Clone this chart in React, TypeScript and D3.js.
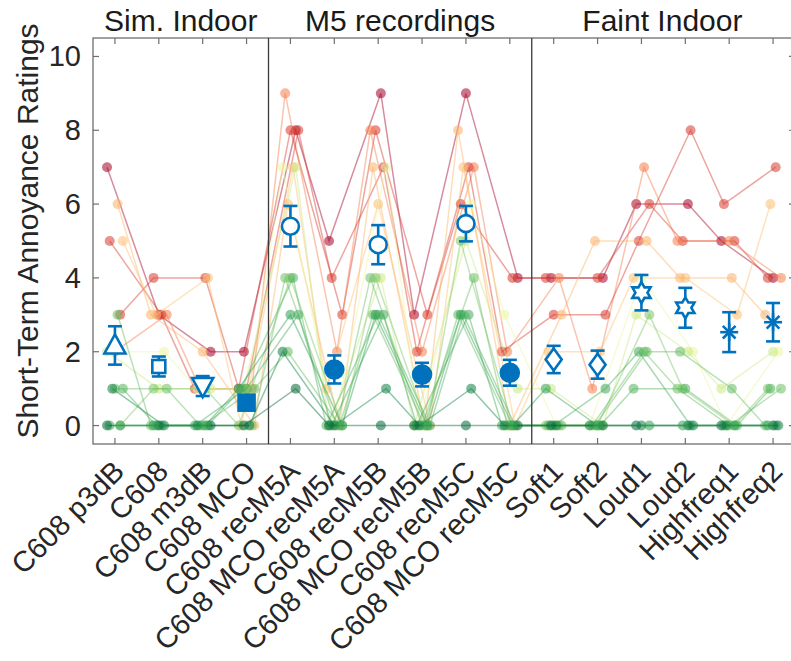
import React from "react";
import * as d3 from "d3";

// Stimulus conditions along the x axis
const categories = [
  "C608 p3dB", "C608", "C608 m3dB", "C608 MCO",
  "C608 recM5A", "C608 MCO recM5A", "C608 recM5B", "C608 MCO recM5B",
  "C608 recM5C", "C608 MCO recM5C",
  "Soft1", "Soft2", "Loud1", "Loud2", "Highfreq1", "Highfreq2",
];

// Group headings and the condition index range each one spans
const sectionTitles = ["Sim. Indoor", "M5 recordings", "Faint Indoor"];
const sectionStarts = [0, 4, 10];
const sectionEnds = [3, 9, 15];

// Mean rating and error per condition
const meanRatings = [2.17, 1.6, 1.07, 0.62, 5.4, 1.52, 4.9, 1.38, 5.47, 1.43, 1.79, 1.65, 3.6, 3.19, 2.53, 2.8];
const errRatings = [0.52, 0.27, 0.27, 0.12, 0.55, 0.38, 0.53, 0.32, 0.48, 0.35, 0.37, 0.38, 0.48, 0.54, 0.54, 0.52];
const meanMarkers = [
  "triangleUp", "square", "triangleDown", "squareFilled",
  "circle", "circleFilled", "circle", "circleFilled", "circle", "circleFilled",
  "diamond", "diamond", "hexagram", "hexagram", "asterisk", "asterisk",
];

// Individual listener ratings (one entry per condition)
const subj01 = [7, 3, 2, 2, 8, 5, 9, 3, 9, 4, 4, 4, 6, 6, 5, 4];
const subj02 = [3, 4, 4, 1, 8, 3, 8, 3, 6, 4, 4, 4, 6, 5, 5, 4];
const subj03 = [2, 3, 1, 1, 9, 2, 8, 2, 7, 2, 4, 1, 7, 5, 5, 4];
const subj04 = [5, 3, 1, 1, 8, 4, 7, 2, 7, 2, 3, 3, 5, 8, 6, 7];
const subj05 = [5, 3, 4, 0, 7, 1, 6, 0, 7, 0, 2, 2, 4, 4, 3, 6];
const subj06 = [6, 3, 2, 0, 6, 0, 7, 0, 8, 0, 3, 5, 5, 4, 4, 3];
const subj07 = [2, 2, 1, 1, 7, 0, 7, 0, 6, 3, 0, 0, 4, 2, 0, 2];
const subj08 = [2, 1, 1, 1, 7, 0, 4, 0, 5, 1, 1, 0, 3, 2, 1, 2];
const subj09 = [0, 1, 1, 0, 4, 0, 4, 0, 5, 0, 0, 0, 3, 1, 0, 1];
const subj10 = [1, 1, 0, 0, 4, 0, 4, 0, 4, 0, 0, 0, 2, 1, 0, 1];
const subj11 = [0, 0, 0, 1, 3, 0, 3, 0, 3, 0, 0, 1, 2, 0, 0, 0];
const subj12 = [1, 0, 0, 1, 4, 0, 3, 0, 3, 0, 0, 0, 1, 1, 0, 1];
const subj13 = [3, 0, 0, 1, 2, 0, 3, 0, 3, 0, 0, 0, 2, 2, 1, 0];
const subj14 = [1, 0, 0, 0, 2, 0, 1, 0, 1, 0, 0, 0, 0, 0, 0, 0];
const subj15 = [0, 0, 0, 0, 1, 0, 0, 0, 0, 0, 0, 0, 0, 0, 0, 0];
const subj16 = [0, 0, 0, 1, 3, 0, 3, 0, 3, 0, 1, 0, 0, 0, 0, 0];
const subjects = [subj01, subj02, subj03, subj04, subj05, subj06, subj07, subj08,
  subj09, subj10, subj11, subj12, subj13, subj14, subj15, subj16];

const yTicks = [0, 2, 4, 6, 8, 10];

const W = 791;
const H = 661;
const LEFT = 93;
const RIGHT = 795;
const TOP = 38;
const BOTTOM = 444;
const BLUE = "#0072BD";
const FONT = "'Liberation Sans', Arial, Helvetica, sans-serif";

const x = d3.scaleLinear().domain([-0.5, 15.5]).range([LEFT, RIGHT]);
const y = d3.scaleLinear().domain([-0.5, 10.5]).range([BOTTOM, TOP]);

const subjMeans = subjects.map((s) => d3.mean(s) as number);
const color = d3
  .scaleSequential(d3.interpolateRdYlGn)
  .domain([d3.max(subjMeans) as number, d3.min(subjMeans) as number]);

// small horizontal spread so overlapping ratings stay visible
const jitter = (s: number, c: number) => (((s * 5 + c * 3) % 7) - 3) * 0.06;

function hexagramPath(R: number) {
  const r = R / Math.sqrt(3);
  const pts: [number, number][] = [];
  for (let k = 0; k < 12; k++) {
    const a = -Math.PI / 2 + (k * Math.PI) / 6;
    const rad = k % 2 === 0 ? R : r;
    pts.push([rad * Math.cos(a), rad * Math.sin(a)]);
  }
  return "M" + pts.map((p) => p.join(",")).join("L") + "Z";
}

function MeanMarker({ kind, cx, cy }: { kind: string; cx: number; cy: number }) {
  const sw = 2.6;
  const common = { stroke: BLUE, strokeWidth: sw, strokeLinejoin: "miter" as const };
  switch (kind) {
    case "triangleUp":
      return <path d={`M${cx},${cy - 11}L${cx + 10.5},${cy + 8}L${cx - 10.5},${cy + 8}Z`} fill="white" {...common} />;
    case "triangleDown":
      return <path d={`M${cx},${cy + 11}L${cx + 10.5},${cy - 8}L${cx - 10.5},${cy - 8}Z`} fill="white" {...common} />;
    case "square":
      return <rect x={cx - 6.5} y={cy - 6.5} width={13} height={13} fill="white" {...common} />;
    case "squareFilled":
      return <rect x={cx - 8} y={cy - 8} width={16} height={16} fill={BLUE} {...common} />;
    case "circle":
      return <circle cx={cx} cy={cy} r={8.5} fill="white" {...common} />;
    case "circleFilled":
      return <circle cx={cx} cy={cy} r={9} fill={BLUE} {...common} />;
    case "diamond":
      return <path d={`M${cx},${cy - 11}L${cx + 8},${cy}L${cx},${cy + 11}L${cx - 8},${cy}Z`} fill="white" {...common} />;
    case "hexagram":
      return <path d={hexagramPath(10.5)} transform={`translate(${cx},${cy})`} fill="white" {...common} />;
    case "asterisk": {
      const a = 9;
      const b = a * 0.707;
      return (
        <g stroke={BLUE} strokeWidth={sw}>
          <line x1={cx - a} y1={cy} x2={cx + a} y2={cy} />
          <line x1={cx} y1={cy - a} x2={cx} y2={cy + a} />
          <line x1={cx - b} y1={cy - b} x2={cx + b} y2={cy + b} />
          <line x1={cx - b} y1={cy + b} x2={cx + b} y2={cy - b} />
        </g>
      );
    }
    default:
      return null;
  }
}

export default function App() {
  const line = d3
    .line<[number, number]>()
    .x((d) => d[0])
    .y((d) => d[1]);

  const tickLen = 6;
  const frameColor = "#6e6e6e";

  return (
    <svg
      width={W}
      height={H}
      style={{ position: "absolute", left: 0, top: 0, background: "white" }}
      fontFamily={FONT}
    >
      <rect x={0} y={0} width={W} height={H} fill="white" />

      {/* individual listener trajectories */}
      <g>
        {subjects.map((s, si) => {
          const pts = s.map((v, ci) => [x(ci + jitter(si, ci)), y(v)] as [number, number]);
          return (
            <g key={si}>
              <path d={line(pts) as string} fill="none" stroke={color(subjMeans[si])} strokeOpacity={0.45} strokeWidth={1.5} />
              {pts.map((p, ci) => (
                <circle key={ci} cx={p[0]} cy={p[1]} r={5} fill={color(subjMeans[si])} fillOpacity={0.55} />
              ))}
            </g>
          );
        })}
      </g>

      {/* frame */}
      <rect x={LEFT} y={TOP} width={RIGHT - LEFT} height={BOTTOM - TOP} fill="none" stroke={frameColor} strokeWidth={1.3} />

      {/* section separators */}
      {sectionEnds.slice(0, -1).map((e, i) => (
        <line key={i} x1={x(e + 0.5)} x2={x(e + 0.5)} y1={TOP} y2={BOTTOM} stroke="#3a3a3a" strokeWidth={1.3} />
      ))}

      {/* x ticks (bottom and top, inward) */}
      {categories.map((c, i) => (
        <g key={c} stroke={frameColor} strokeWidth={1.2}>
          <line x1={x(i)} x2={x(i)} y1={BOTTOM} y2={BOTTOM - tickLen} />
          <line x1={x(i)} x2={x(i)} y1={TOP} y2={TOP + tickLen} />
        </g>
      ))}

      {/* y ticks (left and right, inward) */}
      {yTicks.map((t) => (
        <g key={t}>
          <line x1={LEFT} x2={LEFT + tickLen} y1={y(t)} y2={y(t)} stroke={frameColor} strokeWidth={1.2} />
          <line x1={RIGHT} x2={RIGHT - tickLen} y1={y(t)} y2={y(t)} stroke={frameColor} strokeWidth={1.2} />
          <text x={81} y={y(t)} textAnchor="end" dominantBaseline="central" fontSize={29} fill="#262626">
            {t}
          </text>
        </g>
      ))}

      {/* mean ratings with error bars */}
      {meanRatings.map((m, i) => {
        const cx = x(i);
        const e = errRatings[i];
        const capW = 7;
        return (
          <g key={i}>
            <g stroke={BLUE} strokeWidth={2.6}>
              <line x1={cx} x2={cx} y1={y(m - e)} y2={y(m + e)} />
              <line x1={cx - capW} x2={cx + capW} y1={y(m - e)} y2={y(m - e)} />
              <line x1={cx - capW} x2={cx + capW} y1={y(m + e)} y2={y(m + e)} />
            </g>
            <MeanMarker kind={meanMarkers[i]} cx={cx} cy={y(m)} />
          </g>
        );
      })}

      {/* section headings */}
      {sectionTitles.map((t, i) => (
        <text
          key={t}
          x={(x(sectionStarts[i] - 0.5) + Math.min(x(sectionEnds[i] + 0.5), 793)) / 2}
          y={31}
          textAnchor="middle"
          fontSize={30}
          fill="#1a1a1a"
        >
          {t}
        </text>
      ))}

      {/* rotated category labels */}
      {categories.map((c, i) => (
        <text
          key={c}
          transform={`translate(${x(i) + 4},${BOTTOM + 22}) rotate(-45)`}
          textAnchor="end"
          dominantBaseline="central"
          fontSize={29}
          fill="#262626"
        >
          {c}
        </text>
      ))}

      {/* y axis title */}
      <text transform={`translate(38,231) rotate(-90)`} textAnchor="middle" fontSize={30} fill="#262626">
        Short-Term Annoyance Ratings
      </text>
    </svg>
  );
}
